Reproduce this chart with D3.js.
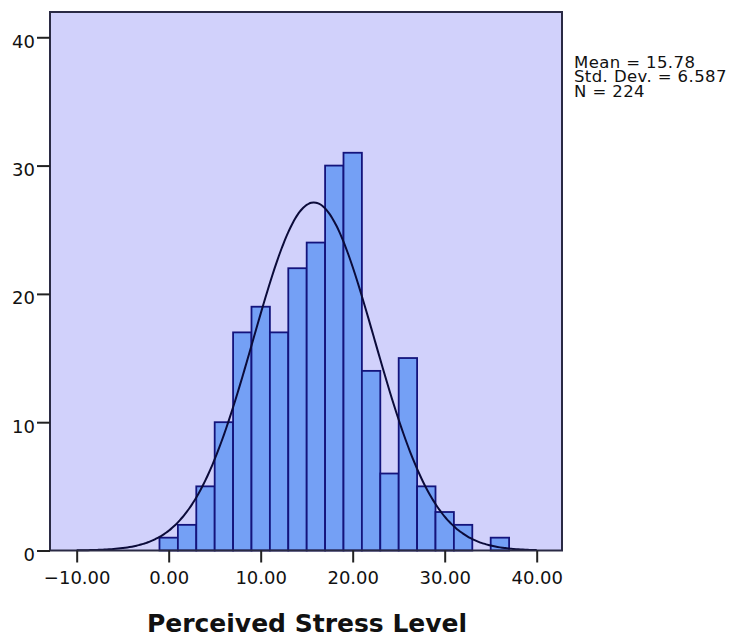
<!DOCTYPE html>
<html>
<head>
<meta charset="utf-8">
<script src="https://cdn.jsdelivr.net/npm/d3@7"></script>
<style>
  body { margin: 0; background: #fff; }
  text { font-family: "DejaVu Sans", sans-serif; fill: #111; }
</style>
</head>
<body>
<div id="chart"></div>
<script>
// histogram bins (lower edge, width 2) and counts
var binStarts = [-1, 1, 3, 5, 7, 9, 11, 13, 15, 17, 19, 21, 23, 25, 27, 29, 31, 33, 35];
var counts    = [1, 2, 5, 10, 17, 19, 17, 22, 24, 30, 31, 14, 6, 15, 5, 3, 2, 0, 1];
var binWidth = 2;
var xTicks = [-10, 0, 10, 20, 30, 40];
var yTicks = [0, 10, 20, 30, 40];
var stats = { mean: 15.78, sd: 6.587, n: 224 };
var statLines = ["Mean = 15.78", "Std. Dev. = 6.587", "N = 224"];

var W = 741, H = 642;
var plot = { left: 50, right: 562, top: 12, bottom: 550.5 };

var svg = d3.select("#chart").append("svg")
    .attr("width", W)
    .attr("height", H);

var x = d3.scaleLinear()
    .domain([-12.9, 42.75])
    .range([plot.left, plot.right]);

var y = d3.scaleLinear()
    .domain([0, 41.97])
    .range([plot.bottom, plot.top]);

// plot background
svg.append("rect")
    .attr("x", plot.left)
    .attr("y", plot.top)
    .attr("width", plot.right - plot.left)
    .attr("height", plot.bottom - plot.top)
    .attr("fill", "#d1d1fb");

// bars
var bins = binStarts.map(function(b, i) { return { x0: b, x1: b + binWidth, n: counts[i] }; });
svg.append("g").selectAll("rect")
    .data(bins.filter(function(d) { return d.n > 0; }))
    .enter().append("rect")
    .attr("x", function(d) { return x(d.x0); })
    .attr("y", function(d) { return y(d.n); })
    .attr("width", function(d) { return x(d.x1) - x(d.x0); })
    .attr("height", function(d) { return y(0) - y(d.n); })
    .attr("fill", "#74a0f5")
    .attr("stroke", "#14147c")
    .attr("stroke-width", 1.8);

// normal curve from mean / sd
var scaleN = stats.n * binWidth / (stats.sd * Math.sqrt(2 * Math.PI));
var curveX = d3.range(-10, 40.01, 0.25);
var line = d3.line()
    .x(function(d) { return x(d); })
    .y(function(d) {
        var z = (d - stats.mean) / stats.sd;
        return y(scaleN * Math.exp(-0.5 * z * z));
    })
    .curve(d3.curveBasis);
svg.append("path")
    .datum(curveX)
    .attr("d", line)
    .attr("fill", "none")
    .attr("stroke", "#0b0b3a")
    .attr("stroke-width", 2);

// frame
svg.append("rect")
    .attr("x", plot.left)
    .attr("y", plot.top)
    .attr("width", plot.right - plot.left)
    .attr("height", plot.bottom - plot.top)
    .attr("fill", "none")
    .attr("stroke", "#2a2a44")
    .attr("stroke-width", 2);

// axes
var xAxis = d3.axisBottom(x).tickValues(xTicks)
    .tickFormat(d3.format(".2f")).tickSize(12).tickPadding(9);
var gx = svg.append("g")
    .attr("transform", "translate(0," + plot.bottom + ")")
    .call(xAxis);
gx.select(".domain").remove();
gx.selectAll("line").attr("stroke", "#222").attr("stroke-width", 2);
gx.selectAll("text").style("font-size", "18px").attr("fill", "#111");

var yAxis = d3.axisLeft(y).tickValues(yTicks).tickSize(13).tickPadding(2);
var gy = svg.append("g")
    .attr("transform", "translate(" + plot.left + ",0)")
    .call(yAxis);
gy.select(".domain").remove();
gy.selectAll("line").attr("stroke", "#222").attr("stroke-width", 2);
gy.selectAll("text").style("font-size", "18px").attr("dy", "0.55em").attr("fill", "#111");

// stats box
svg.append("g").selectAll("text")
    .data(statLines)
    .enter().append("text")
    .attr("x", 574)
    .attr("y", function(d, i) { return 67.5 + i * 14.5; })
    .style("font-size", "16.5px")
    .style("letter-spacing", "0.4px")
    .text(function(d) { return d; });

// axis title
svg.append("text")
    .attr("x", (plot.left + plot.right) / 2 + 1)
    .attr("y", 632)
    .attr("text-anchor", "middle")
    .style("font-size", "25px")
    .style("font-weight", "bold")
    .text("Perceived Stress Level");
</script>
</body>
</html>
